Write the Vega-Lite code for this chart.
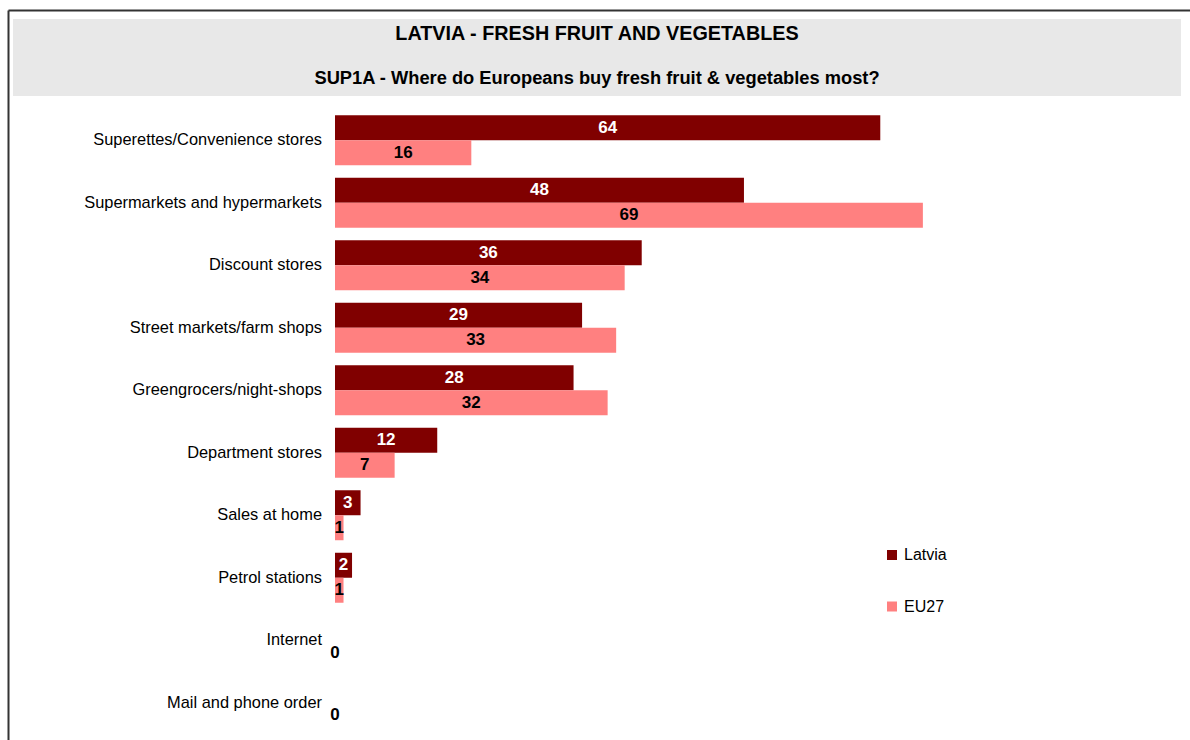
{
  "$schema": "https://vega.github.io/schema/vega-lite/v6.json",
  "padding": {"left": 8, "top": 10, "right": 0, "bottom": 0},
  "background": "white",
  "columns": 1,
  "spacing": -751,
  "align": "none",
  "config": {"font": "Liberation Sans", "view": {"stroke": null}},
  "concat": [
    {
      "width": 1180,
      "height": 760,
      "data": {"values": []},
      "mark": {"type": "point"},
      "encoding": {
        "x": {"datum": 0, "type": "quantitative", "scale": {"domain": [0, 1], "range": [-5, 1200]},
              "axis": {"orient": "top", "domain": true, "domainColor": "#333333", "domainWidth": 2, "ticks": false, "labels": false, "grid": false, "title": null}},
        "y": {"datum": 0, "type": "quantitative", "scale": {"domain": [0, 1], "range": [760, 0]},
              "axis": {"orient": "left", "offset": 5, "domain": true, "domainColor": "#333333", "domainWidth": 2, "ticks": false, "labels": false, "grid": false, "title": null}}
      }
    },
    {
      "columns": 1,
      "spacing": 13,
      "align": "none",
      "concat": [
        {
          "width": 1168,
          "height": 77,
          "view": {"fill": "#E8E8E8", "stroke": null},
          "data": {"values": [
            {"line": "LATVIA - FRESH FRUIT AND VEGETABLES", "row": "a"},
            {"line": "SUP1A - Where do Europeans buy fresh fruit & vegetables most?", "row": "b"}
          ]},
          "mark": {"type": "text", "font": "Liberation Sans", "fontWeight": "bold", "color": "black", "baseline": "middle"},
          "encoding": {
            "y": {"field": "row", "type": "ordinal", "scale": {"type": "point", "range": [15, 60], "padding": 0}, "axis": null},
            "text": {"field": "line"},
            "size": {"field": "row", "type": "ordinal", "scale": {"range": [19.8, 18.3]}, "legend": null}
          }
        },
        {
          "width": 1177,
          "height": 625,
          "data": {"values": [
            {"cat": "Superettes/Convenience stores", "series": "Latvia", "value": 64},
            {"cat": "Superettes/Convenience stores", "series": "EU27", "value": 16},
            {"cat": "Supermarkets and hypermarkets", "series": "Latvia", "value": 48},
            {"cat": "Supermarkets and hypermarkets", "series": "EU27", "value": 69},
            {"cat": "Discount stores", "series": "Latvia", "value": 36},
            {"cat": "Discount stores", "series": "EU27", "value": 34},
            {"cat": "Street markets/farm shops", "series": "Latvia", "value": 29},
            {"cat": "Street markets/farm shops", "series": "EU27", "value": 33},
            {"cat": "Greengrocers/night-shops", "series": "Latvia", "value": 28},
            {"cat": "Greengrocers/night-shops", "series": "EU27", "value": 32},
            {"cat": "Department stores", "series": "Latvia", "value": 12},
            {"cat": "Department stores", "series": "EU27", "value": 7},
            {"cat": "Sales at home", "series": "Latvia", "value": 3},
            {"cat": "Sales at home", "series": "EU27", "value": 1},
            {"cat": "Petrol stations", "series": "Latvia", "value": 2},
            {"cat": "Petrol stations", "series": "EU27", "value": 1},
            {"cat": "Internet", "series": "Latvia", "value": 0},
            {"cat": "Internet", "series": "EU27", "value": 0},
            {"cat": "Mail and phone order", "series": "Latvia", "value": 0},
            {"cat": "Mail and phone order", "series": "EU27", "value": 0}
          ]},
          "encoding": {
            "y": {
              "field": "cat", "type": "nominal", "sort": null,
              "scale": {"paddingInner": 0.2, "paddingOuter": 0.1},
              "axis": null
            }
          },
          "layer": [
            {
              "mark": {"type": "bar"},
              "encoding": {
                "yOffset": {"field": "series", "type": "nominal", "sort": ["Latvia", "EU27"], "scale": {"paddingInner": 0, "paddingOuter": 0}},
                "x": {"field": "value", "type": "quantitative", "scale": {"domain": [0, 100], "range": [322, 1174], "nice": false}, "axis": null},
                "color": {
                  "field": "series", "type": "nominal", "sort": ["Latvia", "EU27"],
                  "scale": {"domain": ["Latvia", "EU27"], "range": ["#800000", "#FF8080"]},
                  "legend": {"title": null, "orient": "none", "legendX": 871, "legendY": 537, "padding": 0, "rowPadding": 35.5, "symbolType": "square", "symbolSize": 100, "symbolStrokeWidth": 0, "labelFontSize": 16, "labelFont": "Liberation Sans", "labelColor": "black", "labelOffset": 4}
                }
              }
            },
            {
              "mark": {"type": "text", "fontWeight": "bold", "fontSize": 17, "font": "Liberation Sans", "baseline": "middle", "align": "center"},
              "encoding": {
                "yOffset": {"field": "series", "type": "nominal", "sort": ["Latvia", "EU27"], "scale": {"paddingInner": 0, "paddingOuter": 0}},
                "x": {"field": "value", "type": "quantitative", "scale": {"domain": [0, 200], "range": [322, 1174], "nice": false}, "axis": null},
                "text": {"field": "value", "type": "quantitative"},
                "color": {"condition": {"test": "datum.series === 'Latvia'", "value": "white"}, "value": "black"}
              }
            },
            {
              "transform": [{"filter": "datum.series === 'Latvia'"}],
              "mark": {"type": "text", "fontSize": 16.4, "font": "Liberation Sans", "baseline": "middle", "align": "right", "dx": -13, "color": "black"},
              "encoding": {
                "x": {"datum": 0, "type": "quantitative", "scale": {"domain": [0, 100], "range": [322, 1174], "nice": false}, "axis": null},
                "text": {"field": "cat", "type": "nominal"}
              }
            }
          ],
          "resolve": {"scale": {"x": "independent"}}
        }
      ]
    }
  ]
}
